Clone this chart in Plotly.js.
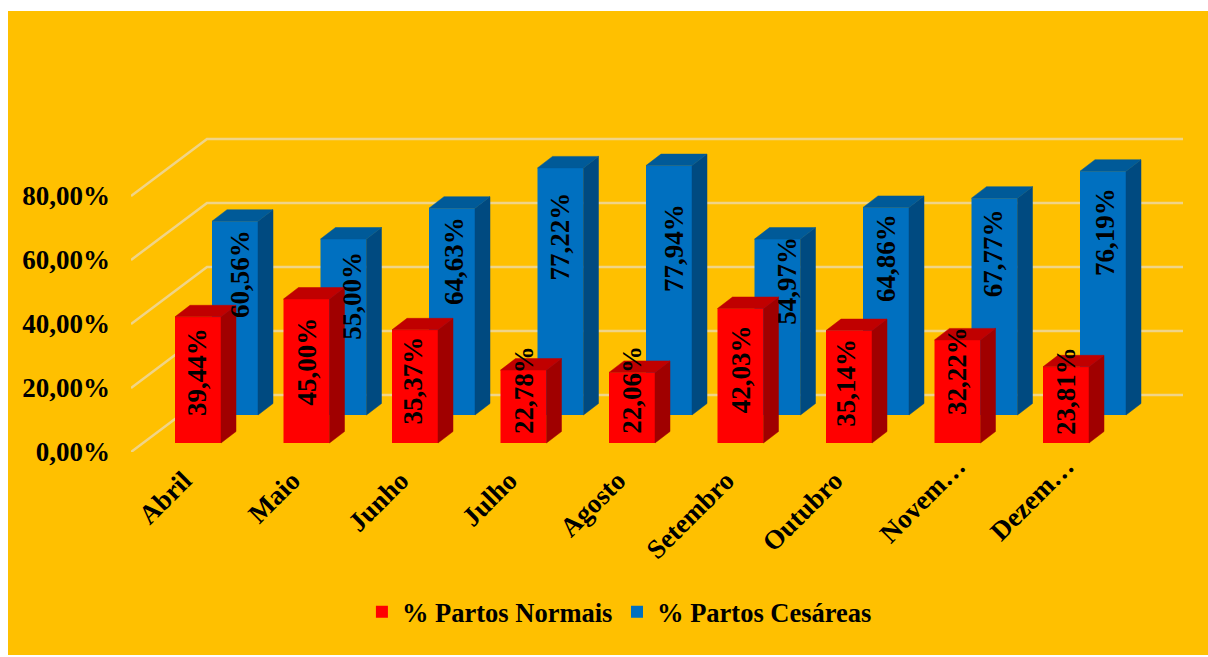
<!DOCTYPE html>
<html><head><meta charset="utf-8">
<script src="https://cdn.plot.ly/plotly-3.0.1.min.js"></script>
<style>html,body{margin:0;background:#fff}#c{position:absolute;left:8px;top:11px;width:1200px;height:644px}</style>
</head><body><div id="c"></div>
<script>
const months = ['Abril','Maio','Junho','Julho','Agosto','Setembro','Outubro','Novem…','Dezem…'];
const normais = [39.44,45.00,35.37,22.78,22.06,42.03,35.14,32.22,23.81];
const cesareas = [60.56,55.00,64.63,77.22,77.94,54.97,64.86,67.77,76.19];
const gridValues = [0,20,40,60,80];
const gridLabels = ['0,00%','20,00%','40,00%','60,00%','80,00%'];
const nameNormais = '% Partos Normais';
const nameCesareas = '% Partos Cesáreas';

// 3D look: scales (pixels per data unit) and depth offsets
const PX = 108.5, PY = 3.2;
const xRange = [-67/PX, 985/PX], yRange = [-9/PY, 313/PY];
const barW = 46/PX, depthX = 15/PX, depthY = 11.5/PY;
const blueDX = 37/PX, blueDY = 28/PY;
const wallDX = 76/PX, wallDY = 48/PY, frontDrop = 9/PY;
const fmt = v => v.toFixed(2).replace('.', ',') + '%';

function faces(vals, dx, dy) {
  const side = {x:[],y:[]}, top = {x:[],y:[]};
  vals.forEach((v,i) => {
    const l = i+dx-barW/2, r = i+dx+barW/2, b = dy, t = dy+v;
    side.x.push(r,r+depthX,r+depthX,r,r,null);
    side.y.push(b,b+depthY,t+depthY,t,b,null);
    top.x.push(l,l+depthX,r+depthX,r,l,null);
    top.y.push(t,t+depthY,t+depthY,t,t,null);
  });
  return {side,top};
}
const poly = (p,color,xa,ya) => ({type:'scatter',mode:'lines',x:p.x,y:p.y,fill:'toself',fillcolor:color,
  line:{color:color,width:0.5},showlegend:false,hoverinfo:'skip',cliponaxis:false,xaxis:xa,yaxis:ya});

const wall = {x:[],y:[]};
gridValues.forEach(v => {
  wall.x.push(xRange[0], xRange[0]+wallDX, xRange[1], null);
  wall.y.push(v-frontDrop, v+wallDY, v+wallDY, null);
});
const fb = faces(cesareas, blueDX, blueDY), fr = faces(normais, 0, 0);
const traces = [
  {type:'scatter',mode:'lines',x:wall.x,y:wall.y,line:{color:'#F0D488',width:2.5},showlegend:false,hoverinfo:'skip',cliponaxis:false},
  {type:'bar',name:'<b>'+nameCesareas+'</b>',legend:'legend2',showlegend:true,x:months.map((m,i)=>i+blueDX),y:cesareas,base:blueDY,width:barW,marker:{color:'#0070C0'},cliponaxis:false,hoverinfo:'skip',xaxis:'x2',yaxis:'y2'},
  poly(fb.side,'#004A80','x2','y2'), poly(fb.top,'#005A98','x2','y2'),
  {type:'bar',name:'<b>'+nameNormais+'</b>',showlegend:true,x:months.map((m,i)=>i),y:normais,width:barW,marker:{color:'#FF0000'},cliponaxis:false,hoverinfo:'skip',xaxis:'x3',yaxis:'y3'},
  poly(fr.side,'#A00000','x3','y3'), poly(fr.top,'#C00000','x3','y3')
];
// Label placement tuning (pixels), separate from data
const redUp = [0,1,-2,8,10,-2,-4,12,6];
const redRight = [-1,0,-2,0,0,0,-3,0,0];
const blueUp = [1.5,-8,5,0,-12.6,7,7.6,5,7.5];
const blueRight = [5,9,2,0,5,10,0,-2,2];
const font = {family:'"Liberation Serif","Times New Roman",serif',size:27,color:'#000'};
const ann = (x,y,t,xs,ys) => ({x,y,xref:'x',yref:'y',text:'<b>'+t+'</b>',textangle:-90,showarrow:false,font,xshift:xs,yshift:ys,xanchor:'center',yanchor:'middle'});
const annotations = [
  ...cesareas.map((v,i)=>ann(i+blueDX,blueDY+0.72*v,fmt(v),blueRight[i],blueUp[i])),
  ...normais.map((v,i)=>ann(i,v/2+8/PY,fmt(v),redRight[i],redUp[i]))
];
const pad = '\u00A0\u00A0\u00A0';
const H = {showline:false,zeroline:false,showgrid:false,ticks:''};
const O = {...H,visible:false};
const legendBase = {orientation:'h',xanchor:'left',y:-0.497,yanchor:'middle',font:{...font,size:26.5},bgcolor:'rgba(0,0,0,0)'};
const layout = {
  width:1200,height:644,margin:{l:123,r:25,t:119,b:203},
  paper_bgcolor:'#FFC000',plot_bgcolor:'rgba(0,0,0,0)',barmode:'overlay',font,
  xaxis:{...H,range:xRange,tickmode:'array',tickvals:months.map((m,i)=>i),ticktext:months.map(m=>'<b>'+m+(m.endsWith('…')?'':pad)+'</b>'),tickangle:-45,ticklabelstandoff:-8,tickfont:font},
  yaxis:{...H,range:yRange,tickmode:'array',tickvals:gridValues.map(v=>v-frontDrop),ticktext:gridLabels.map(m=>'<b>'+m+'</b>'),ticklabelstandoff:20,tickfont:font},
  xaxis2:{...O,range:xRange,overlaying:'x'},
  yaxis2:{...O,range:yRange,overlaying:'y'},
  xaxis3:{...O,range:xRange,overlaying:'x'},
  yaxis3:{...O,range:yRange,overlaying:'y'},
  legend:{...legendBase,x:0.2195},
  legend2:{...legendBase,x:0.462},
  annotations
};
Plotly.newPlot('c',traces,layout,{displayModeBar:false,staticPlot:true});
</script></body></html>
